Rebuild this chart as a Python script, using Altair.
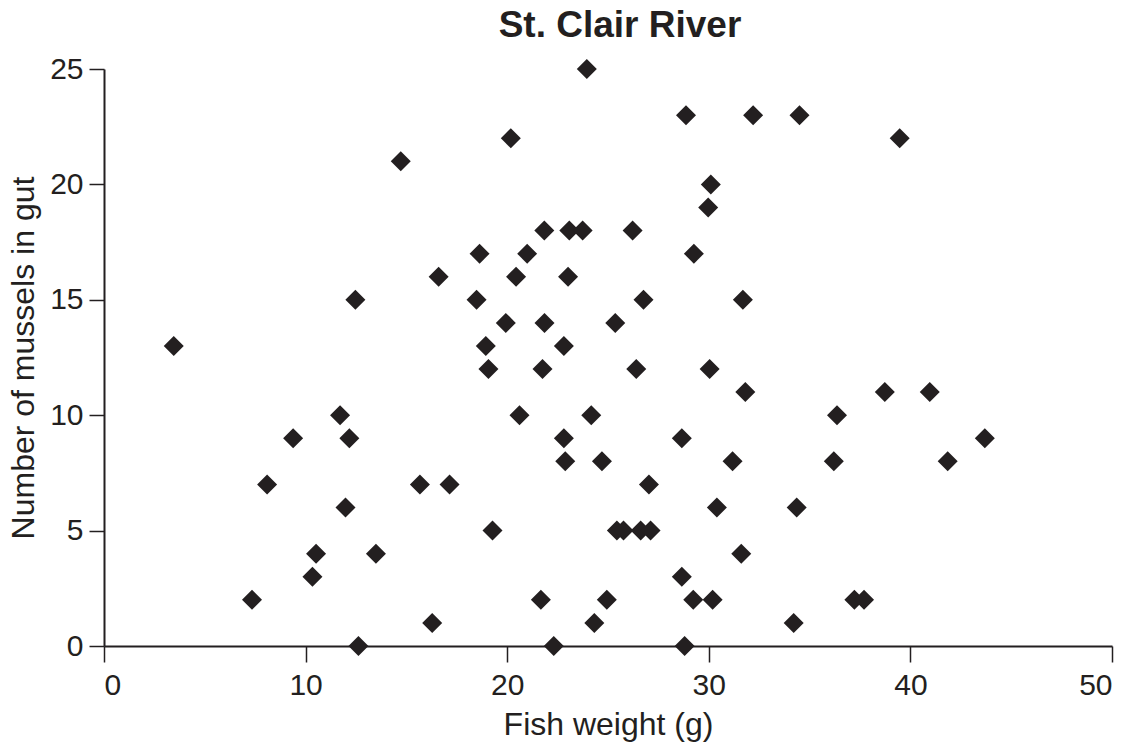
import altair as alt
import pandas as pd

fish_weight = [3.46, 7.34, 8.09, 9.38, 10.34, 10.52, 11.71, 11.98, 12.17, 12.47,
               12.62, 13.49, 14.72, 15.67, 16.28, 16.6, 17.14, 18.48, 18.63, 18.94,
               19.07, 19.27, 19.93, 20.18, 20.44, 20.61, 20.99, 21.67, 21.75, 21.84,
               21.85, 22.31, 22.81, 22.81, 22.88, 23.02, 23.08, 23.74, 23.95, 24.17,
               24.32, 24.7, 24.94, 25.36, 25.44, 25.77, 26.22, 26.4, 26.62, 26.76,
               27.03, 27.11, 28.66, 28.66, 28.8, 28.87, 29.23, 29.26, 29.97, 30.04,
               30.1, 30.19, 30.4, 31.18, 31.61, 31.69, 31.81, 32.2, 34.21, 34.36,
               34.5, 36.2, 36.36, 37.22, 37.7, 38.73, 39.47, 40.96, 41.85, 43.69]
mussels = [13, 2, 7, 9, 3, 4, 10, 6, 9, 15,
           0, 4, 21, 7, 1, 16, 7, 15, 17, 13,
           12, 5, 14, 22, 16, 10, 17, 2, 12, 18,
           14, 0, 13, 9, 8, 16, 18, 18, 25, 10,
           1, 8, 2, 14, 5, 5, 18, 12, 5, 15,
           7, 5, 9, 3, 0, 23, 2, 17, 19, 12,
           20, 2, 6, 8, 4, 15, 11, 23, 1, 6,
           23, 8, 10, 2, 2, 11, 22, 11, 8, 9]

x_ticks = [0, 10, 20, 30, 40, 50]
y_ticks = [0, 5, 10, 15, 20, 25]

df = pd.DataFrame({"weight": fish_weight, "mussels": mussels})

INK = "#231f20"
FONT = "Liberation Sans"

chart = alt.Chart(df).mark_point(
    shape="diamond", filled=True, size=400, color=INK, opacity=1
).encode(
    x=alt.X("weight:Q",
            scale=alt.Scale(domain=[0, 50], nice=False, zero=True),
            axis=alt.Axis(title="Fish weight (g)", values=x_ticks, grid=False,
                          tickSize=16, tickWidth=1.5, labelPadding=8,
                          titlePadding=9)),
    y=alt.Y("mussels:Q",
            scale=alt.Scale(domain=[0, 25], nice=False, zero=True),
            axis=alt.Axis(title="Number of mussels in gut", values=y_ticks, grid=False,
                          tickSize=15, tickWidth=1.5, labelPadding=6,
                          titlePadding=9)),
).properties(
    width=1008,
    height=577,
    title=alt.TitleParams("St. Clair River", font=FONT, fontSize=37, fontWeight="bold",
                          color=INK, anchor="middle", dx=12, offset=9),
    autosize=alt.AutoSizeParams(type="none"),
    padding={"left": 104, "top": 69, "right": 26, "bottom": 102},
).configure_view(
    stroke=None
).configure_axis(
    domainColor=INK, domainWidth=2, tickColor=INK,
    labelFont=FONT, labelFontSize=30, labelColor=INK,
    titleFont=FONT, titleFontSize=32, titleFontWeight="normal", titleColor=INK,
)

chart.save("out.html", embed_options={"renderer": "svg", "actions": False})
